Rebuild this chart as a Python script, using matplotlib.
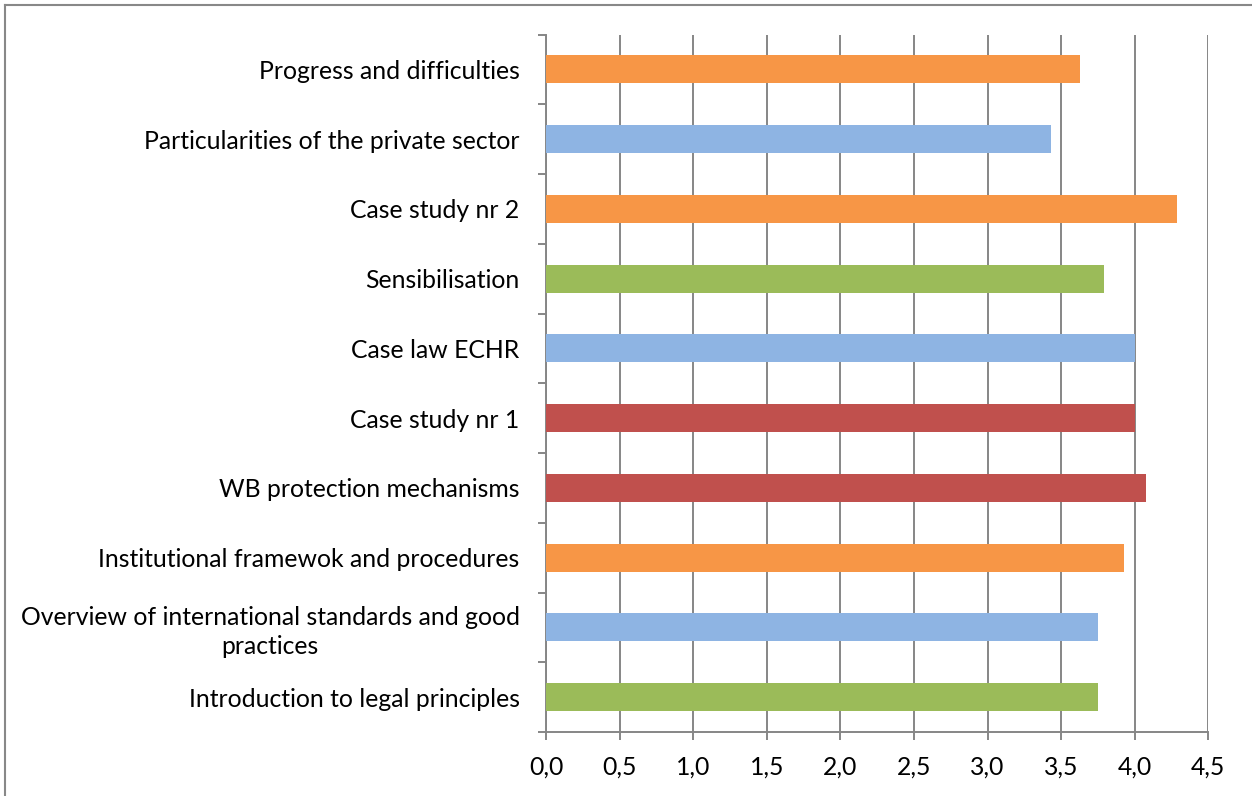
import numpy as np
import matplotlib.pyplot as plt
from matplotlib.lines import Line2D

plt.rcParams['font.family'] = ['Lato', 'DejaVu Sans']

# data, bottom to top
topics = [
    "Introduction to legal principles",
    "Overview of international standards and good\npractices",
    "Institutional framewok and procedures",
    "WB protection mechanisms",
    "Case study nr 1",
    "Case law ECHR",
    "Sensibilisation",
    "Case study nr 2",
    "Particularities of the private sector",
    "Progress and difficulties",
]
scores = [3.75, 3.75, 3.93, 4.08, 4.0, 4.0, 3.79, 4.29, 3.43, 3.625]
bar_colors = ["#9BBB59", "#8EB4E3", "#F79646", "#C0504D", "#C0504D",
              "#8EB4E3", "#9BBB59", "#F79646", "#8EB4E3", "#F79646"]
xticks = [0, 0.5, 1.0, 1.5, 2.0, 2.5, 3.0, 3.5, 4.0, 4.5]

fs = 17.8

fig = plt.figure(figsize=(12.52, 7.96), dpi=100)
ax = fig.add_axes([546/1252, 1 - 732/796, (1208.3 - 546)/1252, (732 - 34.5)/796])

y = np.arange(len(topics))
ax.barh(y, scores, height=0.4, color=bar_colors, zorder=3)

ax.set_xlim(0, 4.5)
ax.set_ylim(-0.5, len(topics) - 0.5)
ax.set_xticks(xticks)
ax.set_xticklabels([f"{v:.1f}".replace(".", ",") for v in xticks], fontsize=fs)
ax.set_yticks(y)
ax.set_yticklabels(topics, fontsize=fs, multialignment="center", linespacing=1.3)
ax.set_yticks(np.arange(-0.5, len(topics), 1), minor=True)

ax.grid(axis="x", color="#868686", linewidth=1.4, zorder=0)
for s in ["top", "right"]:
    ax.spines[s].set_visible(False)
for s in ["left", "bottom"]:
    ax.spines[s].set_color("#868686")
    ax.spines[s].set_linewidth(1.4)

ax.tick_params(axis="x", length=6, width=1.4, color="#868686", pad=11)
ax.tick_params(axis="y", which="major", length=0, pad=19)
ax.tick_params(axis="y", which="minor", length=6, width=1.4, color="#868686")

# frame around the chart area
fig.add_artist(Line2D([5/1252, 5/1252], [0, 1 - 5/796], transform=fig.transFigure,
                      color="#888888", linewidth=1.5))
fig.add_artist(Line2D([5/1252, 1], [1 - 5/796, 1 - 5/796], transform=fig.transFigure,
                      color="#888888", linewidth=1.5))

fig.savefig("out.png", dpi=100)
